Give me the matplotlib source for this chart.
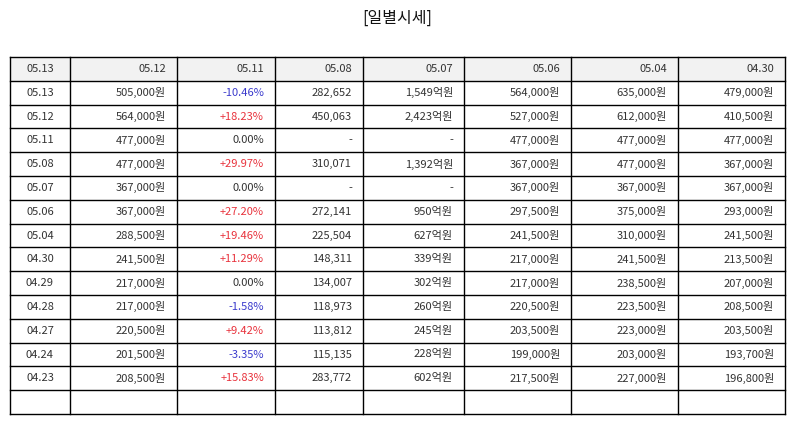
import matplotlib
matplotlib.use("Agg")
import matplotlib.pyplot as plt
from matplotlib.patches import Rectangle

plt.rcParams['font.family'] = ['Noto Sans CJK KR', 'DejaVu Sans']

title = "[일별시세]"
header = ["05.13", "05.12", "05.11", "05.08", "05.07", "05.06", "05.04", "04.30"]
dates = ["05.13", "05.12", "05.11", "05.08", "05.07", "05.06", "05.04",
         "04.30", "04.29", "04.28", "04.27", "04.24", "04.23"]
close = ["505,000원", "564,000원", "477,000원", "477,000원", "367,000원", "367,000원",
         "288,500원", "241,500원", "217,000원", "217,000원", "220,500원", "201,500원", "208,500원"]
change = ["-10.46%", "+18.23%", "0.00%", "+29.97%", "0.00%", "+27.20%", "+19.46%",
          "+11.29%", "0.00%", "-1.58%", "+9.42%", "-3.35%", "+15.83%"]
volume = ["282,652", "450,063", "-", "310,071", "-", "272,141", "225,504",
          "148,311", "134,007", "118,973", "113,812", "115,135", "283,772"]
amount = ["1,549억원", "2,423억원", "-", "1,392억원", "-", "950억원", "627억원",
          "339억원", "302억원", "260억원", "245억원", "228억원", "602억원"]
open_ = ["564,000원", "527,000원", "477,000원", "367,000원", "367,000원", "297,500원",
         "241,500원", "217,000원", "217,000원", "220,500원", "203,500원", "199,000원", "217,500원"]
high = ["635,000원", "612,000원", "477,000원", "477,000원", "367,000원", "375,000원",
        "310,000원", "241,500원", "238,500원", "223,500원", "223,000원", "203,000원", "227,000원"]
low = ["479,000원", "410,500원", "477,000원", "367,000원", "367,000원", "293,000원",
       "241,500원", "213,500원", "207,000원", "208,500원", "203,500원", "193,700원", "196,800원"]

W, H = 794, 425
fig = plt.figure(figsize=(W / 100, H / 100), dpi=100)
ax = fig.add_axes([0, 0, 1, 1])
ax.set_xlim(0, W)
ax.set_ylim(H, 0)
ax.axis('off')

col_edges = [10, 70, 177, 275, 363, 464, 571, 678, 785]
top, bottom = 57, 414
n_rows = 1 + len(dates) + 1
rh = (bottom - top) / n_rows

TXT = '#333333'
RED = '#e8323c'
BLUE = '#3a3acc'
FS = 8

# header background
ax.add_patch(Rectangle((col_edges[0], top), col_edges[-1] - col_edges[0], rh,
                       facecolor='#f2f2f2', edgecolor='none', zorder=0))

columns = [dates, close, change, volume, amount, open_, high, low]

def put(ci, ri, s, color=TXT):
    y = top + rh * (ri + 0.5)
    if ci == 0:
        x = (col_edges[0] + col_edges[1]) / 2
        ha = 'center'
    else:
        x = col_edges[ci + 1] - 11
        ha = 'right'
    ax.text(x, y, s, ha=ha, va='center', fontsize=FS, color=color)

for ci, h in enumerate(header):
    put(ci, 0, h)

for ci, col in enumerate(columns):
    for ri, s in enumerate(col):
        c = TXT
        if ci == 2:
            if s.startswith('+'):
                c = RED
            elif s.startswith('-'):
                c = BLUE
        put(ci, ri + 1, s, c)

# grid lines
for i in range(n_rows + 1):
    y = top + rh * i
    ax.plot([col_edges[0], col_edges[-1]], [y, y], color='black', lw=1.0, solid_capstyle='projecting')
for x in col_edges:
    ax.plot([x, x], [top, bottom], color='black', lw=1.0, solid_capstyle='projecting')

ax.text(W / 2, 18, title, ha='center', va='center', fontsize=11.5, color='#111111')

fig.savefig('out.png', dpi=100)
